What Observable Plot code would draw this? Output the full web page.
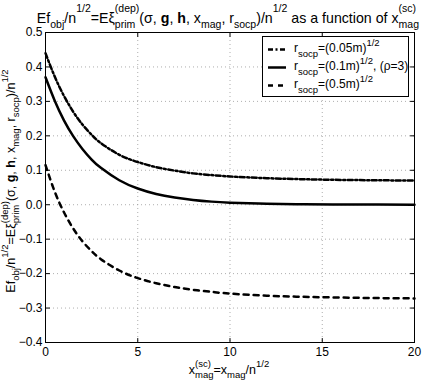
<!DOCTYPE html>
<html><head><meta charset="utf-8">
<script src="https://cdn.jsdelivr.net/npm/d3@7"></script>
<script src="https://cdn.jsdelivr.net/npm/@observablehq/plot@0.6"></script>
<style>body{margin:0;background:#fff}svg{display:block}</style>
</head><body><div id="chart"></div>
<script>
// ---- data ----
const xs    = [0, 0.5, 1, 1.5, 2, 2.5, 3, 4, 5, 6, 7, 8, 9, 10, 12, 14, 16, 18, 20];
const r005  = [0.44, 0.372, 0.316, 0.270, 0.233, 0.203, 0.179, 0.145, 0.124, 0.109, 0.099, 0.091, 0.086, 0.082, 0.077, 0.074, 0.072, 0.071, 0.070];
const r01   = [0.37, 0.302, 0.245, 0.199, 0.162, 0.131, 0.107, 0.071, 0.047, 0.031, 0.021, 0.014, 0.009, 0.006, 0.003, 0.0015, 0.0007, 0.0003, 0.0];
const r05   = [0.115, 0.038, -0.022, -0.069, -0.106, -0.135, -0.158, -0.191, -0.213, -0.228, -0.239, -0.247, -0.253, -0.258, -0.264, -0.2675, -0.2695, -0.271, -0.272];
const xTicks = [0, 5, 10, 15, 20];
const yTicks = [-0.4, -0.3, -0.2, -0.1, 0, 0.1, 0.2, 0.3, 0.4, 0.5];
const legendMain = ["=(0.05m)", "=(0.1m)", "=(0.5m)"];
const legendTail = ["", ", (\u03C1=3)", ""];

const titleSegs = [
  {t:"Ef"},{t:"obj",sub:1},{t:"/n"},{t:"1/2",sup:1},{t:"=E\u03BE"},{t:"(dep)",sup:1},{t:"prim",sub:1,stack:1},
  {t:"(\u03C3, "},{t:"g",bold:1},{t:", "},{t:"h",bold:1},{t:", x"},{t:"mag",sub:1},{t:", r"},{t:"socp",sub:1},
  {t:")/n"},{t:"1/2",sup:1},{t:" as a function of x"},{t:"(sc)",sup:1},{t:"mag",sub:1,stack:1}
];
const yLabelSegs = [
  {t:"Ef"},{t:"obj",sub:1},{t:"/n"},{t:"1/2",sup:1},{t:"=E\u03BE"},{t:"(dep)",sup:1},{t:"prim",sub:1,stack:1},
  {t:"(\u03C3, "},{t:"g",bold:1},{t:", "},{t:"h",bold:1},{t:", x"},{t:"mag",sub:1},{t:", r"},{t:"socp",sub:1},
  {t:")/n"},{t:"1/2",sup:1}
];
const xLabelSegs = [{t:"x"},{t:"(sc)",sup:1},{t:"mag",sub:1,stack:1},{t:"=x"},{t:"mag",sub:1},{t:"/n"},{t:"1/2",sup:1}];

const FONT = "'Liberation Sans', Arial, Helvetica, sans-serif";
const W = 436, H = 382;

const tickShape = {draw(ctx, l) { ctx.moveTo(0, 0); ctx.lineTo(0, -l); }};
const tickOpts = {length: 4, anchor: "start", shape: tickShape, stroke: "#000", strokeWidth: 1};
const gridOpts = {stroke: "#999", strokeOpacity: 1, strokeWidth: 0.8, strokeDasharray: "1,3"};

const styles = [
  {stroke: "#000", strokeWidth: 2.5, strokeDasharray: "5,2.5,2,2.5"},
  {stroke: "#000", strokeWidth: 2.5},
  {stroke: "#000", strokeWidth: 2.5, strokeDasharray: "5,5"}
];

const chart = Plot.plot({
  width: W, height: H,
  marginLeft: 45, marginRight: 22, marginTop: 32, marginBottom: 40,
  style: {fontFamily: FONT, fontSize: "12px", color: "#000", background: "#fff"},
  x: {domain: [0, 20]},
  y: {domain: [-0.4, 0.5]},
  marks: [
    Plot.gridX(xTicks, gridOpts),
    Plot.gridY(yTicks, gridOpts),
    Plot.line(xs, {x: xs, y: r005, curve: "natural", ...styles[0]}),
    Plot.line(xs, {x: xs, y: r01, curve: "natural", ...styles[1]}),
    Plot.line(xs, {x: xs, y: r05, curve: "natural", ...styles[2]}),
    Plot.axisX(xTicks, {anchor: "bottom", tickSize: 0, tickPadding: 5, label: null, fontSize: 12}),
    Plot.axisY(yTicks, {anchor: "left", tickSize: 0, tickPadding: 3, label: null, fontSize: 12}),
    Plot.vector(xTicks, {x: d => d, frameAnchor: "bottom", rotate: 0, ...tickOpts}),
    Plot.vector(xTicks, {x: d => d, frameAnchor: "top", rotate: 180, ...tickOpts}),
    Plot.vector(yTicks, {y: d => d, frameAnchor: "left", rotate: 90, ...tickOpts}),
    Plot.vector(yTicks, {y: d => d, frameAnchor: "right", rotate: -90, ...tickOpts}),
    Plot.frame({stroke: "#000", strokeWidth: 1})
  ]
});
document.getElementById("chart").appendChild(chart);
const svg = d3.select(chart);

function rich(parent, segs, o) {
  const g = parent.append("g").attr("transform", `translate(${o.x},${o.y})${o.rotate ? ` rotate(${o.rotate})` : ""}`);
  const text = g.append("text").attr("font-family", FONT).attr("font-size", o.size)
    .attr("text-anchor", "start").attr("fill", "#000").style("white-space", "pre");
  let cur = 0, carry = 0, prevW = 0;
  for (const s of segs) {
    const off = s.sub ? o.subOff : s.sup ? -o.supOff : 0;
    const ts = text.append("tspan").text(s.t).attr("dy", off - cur);
    cur = off;
    if (s.sub || s.sup) ts.attr("font-size", o.small);
    if (s.bold) ts.attr("font-weight", "bold");
    let dx = carry; carry = 0;
    if (s.stack) dx -= prevW;
    if (dx) ts.attr("dx", dx);
    const w = ts.node().getComputedTextLength();
    if (s.stack) carry = Math.max(0, prevW - w);
    prevW = w;
  }
  if (o.anchor === "middle") {
    const bb = text.node().getBBox();
    text.attr("x", -(bb.x + bb.width / 2));
  }
  return text;
}

// title
rich(svg, titleSegs, {x: 228, y: 23, size: 14.2, small: 10.5, subOff: 5, supOff: 11, anchor: "middle"});
// y label
rich(svg, yLabelSegs, {x: 15, y: 181, rotate: -90, size: 12.5, small: 9.5, subOff: 4, supOff: 7, anchor: "middle"});
// x label
rich(svg, xLabelSegs, {x: 229, y: 374, size: 12.5, small: 9.5, subOff: 4, supOff: 7, anchor: "middle"});

// legend
const lg = svg.append("g");
lg.append("rect").attr("x", 262.5).attr("y", 36.5).attr("width", 146).attr("height", 60)
  .attr("fill", "#fff").attr("stroke", "#000").attr("stroke-width", 1);
const rowY = [49.5, 67.5, 85.5];
styles.forEach((st, i) => {
  lg.append("line").attr("x1", 268).attr("x2", 286).attr("y1", rowY[i]).attr("y2", rowY[i])
    .attr("stroke", "#000").attr("stroke-width", st.strokeWidth)
    .attr("stroke-dasharray", st.strokeDasharray || null);
  const segs = [{t:"r"},{t:"socp",sub:1},{t:legendMain[i]},{t:"1/2",sup:1}];
  if (legendTail[i]) segs.push({t: legendTail[i]});
  rich(lg, segs, {x: 294, y: rowY[i] + 2, size: 12, small: 9.5, subOff: 5, supOff: 6});
});
</script>
</body></html>
